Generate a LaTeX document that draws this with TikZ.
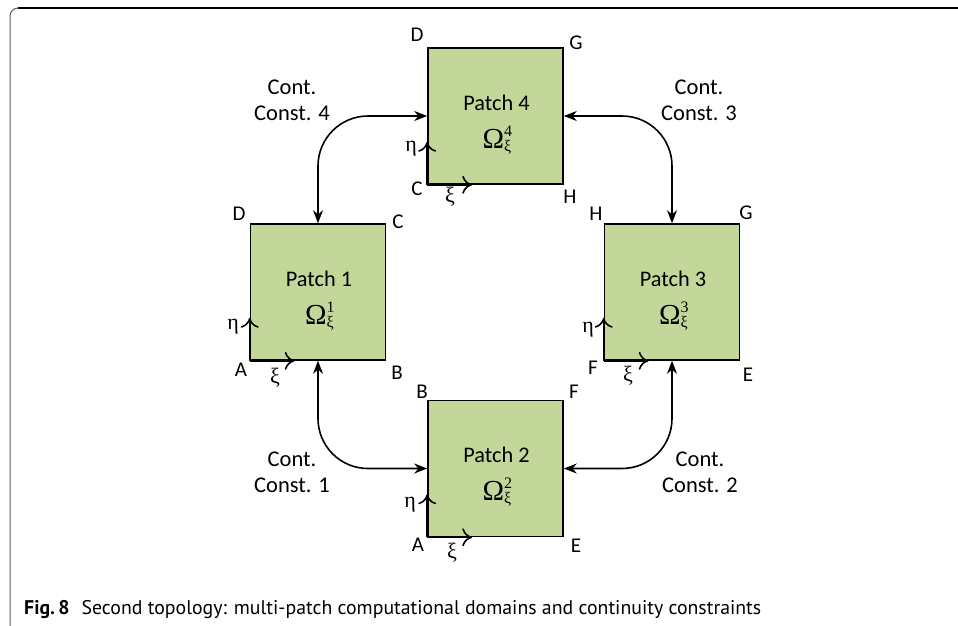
\documentclass[tikz,border=0pt]{standalone}
\usepackage{fontspec}
\setmainfont{Carlito}
\newfontfamily\capfont{PT Sans}
\newfontfamily\grkfont{Liberation Serif}
\usetikzlibrary{arrows.meta}
\definecolor{patchgreen}{RGB}{196,215,155}
\definecolor{framegray}{RGB}{90,90,90}
\newcommand{\omegapatch}[1]{{\grkfont\fontsize{29}{30}\selectfont Ω\rlap{\raisebox{12pt}{\fontsize{16}{16}\selectfont #1}}\raisebox{-3pt}{\fontsize{16}{16}\selectfont ξ}}}
\begin{document}
\begin{tikzpicture}[x=1pt,y=-1pt,
  patch/.style={draw=black, line width=1.6pt, fill=patchgreen, minimum width=135pt, minimum height=136pt, inner sep=0pt},
  lbl/.style={font=\fontsize{21}{24}\selectfont, inner sep=0pt},
  conn/.style={line width=1.6pt, {Stealth[length=13pt,width=10pt]}-{Stealth[length=13pt,width=10pt]}, rounded corners=50pt},
  dirarrow/.style={line width=1.6pt, -{To[length=10pt,width=18pt]}},
  greek/.style={font=\grkfont\fontsize{22}{24}\selectfont, inner sep=0pt},
  ptxt/.style={font=\fontsize{22.3}{24}\selectfont, inner sep=0pt, anchor=base},
  omg/.style={inner sep=0pt, anchor=base},
  ctxt/.style={font=\fontsize{22.5}{26}\selectfont, align=center, inner sep=0pt}]
\useasboundingbox (0,0) rectangle (958,625);
% frame
\draw[framegray, line width=1pt, rounded corners=8pt] (960,8) -- (10,8) -- (10,627);
\draw[black, line width=1.6pt] (960,8) -- (18,8);

% patches
\node[patch] (p4) at (495.5,116) {};
\node[patch] (p1) at (318,292) {};
\node[patch] (p3) at (672,292) {};
\node[patch] (p2) at (495.5,468.5) {};

% patch texts
\foreach \p/\n in {p4/4,p1/1,p3/3,p2/2}{
  \node[ptxt] (t\n) at ([shift={(1,-6)}]\p.center) {Patch \n};
  \node[omg] (o\n) at ([shift={(1.5,32)}]\p.center) {\omegapatch{\n}};
}

% corner labels
\node[lbl] (p4D) at (417,35) {D};
\node[lbl] (p4G) at (576,43) {G};
\node[lbl] (p4C) at (417,189) {C};
\node[lbl] (p4H) at (570,197) {H};
\node[lbl] (p1D) at (239,214) {D};
\node[lbl] (p1C) at (398,222) {C};
\node[lbl] (p1A) at (241,370) {A};
\node[lbl] (p1B) at (397,373) {B};
\node[lbl] (p3H) at (596,214) {H};
\node[lbl] (p3G) at (746,213) {G};
\node[lbl] (p3F) at (593,368) {F};
\node[lbl] (p3E) at (748,375) {E};
\node[lbl] (p2B) at (422,392) {B};
\node[lbl] (p2F) at (574,392) {F};
\node[lbl] (p2A) at (418,545) {A};
\node[lbl] (p2E) at (576,546) {E};

% parameter direction arrows
\foreach \p in {p1,p2,p3,p4}{
  \draw[dirarrow] (\p.south west) -- ++(0,-43);
  \draw[dirarrow] (\p.south west) -- ++(45,0);
}
\node[greek] (e4) at (411,149) {η};
\node[greek] (x4) at (450,197) {ξ};
\node[greek] (e1) at (233,327) {η};
\node[greek] (x1) at (275,378) {ξ};
\node[greek] (e3) at (588,330) {η};
\node[greek] (x3) at (628,376) {ξ};
\node[greek] (e2) at (410,505) {η};
\node[greek] (x2) at (452,553) {ξ};

% continuity constraints
\draw[conn] (p4.west) -| (p1.north);
\draw[conn] (p4.east) -| (p3.north);
\draw[conn] (p1.south) |- (p2.west);
\draw[conn] (p3.south) |- (p2.east);

\node[ctxt] (c4) at (292,100) {Cont.\\Const. 4};
\node[ctxt] (c3) at (699,100) {Cont.\\Const. 3};
\node[ctxt] (c1) at (292,472) {Cont.\\Const. 1};
\node[ctxt] (c2) at (700,472) {Cont.\\Const. 2};

% caption
\node[anchor=base west, inner sep=0pt, font=\capfont\fontsize{19.8}{22}\selectfont] (cap) at (24,614)
  {\textbf{Fig.\,8}\hspace{12pt}Second topology: multi-patch computational domains and continuity constraints};
\end{tikzpicture}
\end{document}
